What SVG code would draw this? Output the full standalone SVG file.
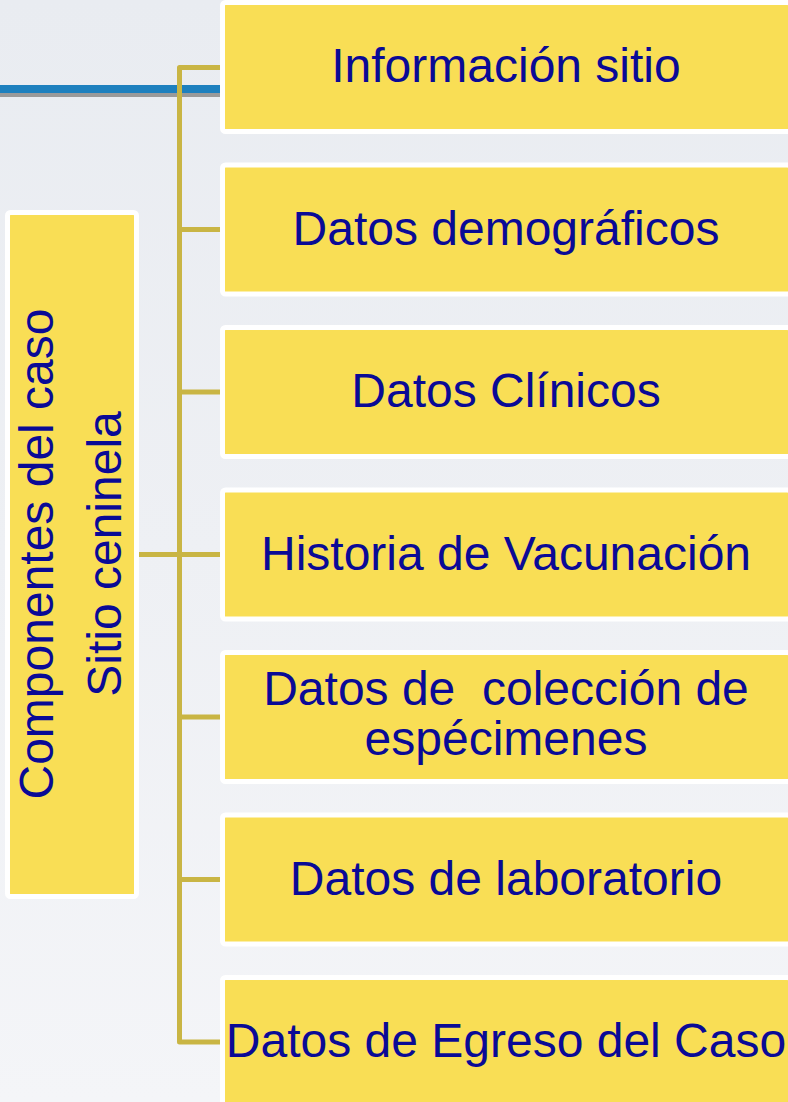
<svg xmlns="http://www.w3.org/2000/svg" width="788" height="1102" viewBox="0 0 788 1102">
  <defs>
    <linearGradient id="bg" x1="0" y1="0" x2="0" y2="1">
      <stop offset="0" stop-color="#e9ecf1"/>
      <stop offset="0.5" stop-color="#eef0f4"/>
      <stop offset="1" stop-color="#f4f5f8"/>
    </linearGradient>
  </defs>
  <style>
    .box { fill: #f9de55; stroke: #ffffff; stroke-width: 5; }
    .lbl { font-family: "Liberation Sans", Arial, sans-serif; font-size: 48px; fill: #0a0a96; text-anchor: middle; }
    .con { fill: none; stroke: #c9b544; stroke-width: 5; }
  </style>
  <rect x="0" y="0" width="788" height="1102" fill="url(#bg)"/>
  <rect x="0" y="85" width="220" height="8" fill="#1e80be"/>
  <rect x="0" y="93" width="220" height="4" fill="#9a9a9a"/>

  <g id="connectors">
    <path class="con" d="M220,67.5 H179.5 V1042 H220" stroke-linejoin="round"/>
    <path class="con" d="M179.5,229.5 H220 M179.5,392 H220 M179.5,717 H220 M179.5,879.5 H220 M139,554.5 H220"/>
  </g>

  <g id="root">
    <rect class="box" x="7.5" y="212.5" width="129" height="684" rx="3"/>
    <text class="lbl" transform="translate(53,554) rotate(-90)" x="0" y="0">Componentes del caso</text>
    <text class="lbl" transform="translate(121,554) rotate(-90)" x="0" y="0">Sitio ceninela</text>
  </g>

  <g id="n1">
    <rect class="box" x="222.5" y="2.5" width="568" height="129" rx="3"/>
    <text class="lbl" x="506" y="82">Información sitio</text>
  </g>
  <g id="n2">
    <rect class="box" x="222.5" y="165" width="568" height="129" rx="3"/>
    <text class="lbl" x="506" y="244.5">Datos demográficos</text>
  </g>
  <g id="n3">
    <rect class="box" x="222.5" y="327.5" width="568" height="129" rx="3"/>
    <text class="lbl" x="506" y="407">Datos Clínicos</text>
  </g>
  <g id="n4">
    <rect class="box" x="222.5" y="490" width="568" height="129" rx="3"/>
    <text class="lbl" x="506" y="569.5">Historia de Vacunación</text>
  </g>
  <g id="n5">
    <rect class="box" x="222.5" y="652.5" width="568" height="129" rx="3"/>
    <text class="lbl" x="506" y="705" xml:space="preserve">Datos de  colección de</text>
    <text class="lbl" x="506" y="755">espécimenes</text>
  </g>
  <g id="n6">
    <rect class="box" x="222.5" y="815" width="568" height="129" rx="3"/>
    <text class="lbl" x="506" y="894.5">Datos de laboratorio</text>
  </g>
  <g id="n7">
    <rect class="box" x="222.5" y="977.5" width="568" height="129" rx="3"/>
    <text class="lbl" x="506" y="1057">Datos de Egreso del Caso</text>
  </g>
</svg>
